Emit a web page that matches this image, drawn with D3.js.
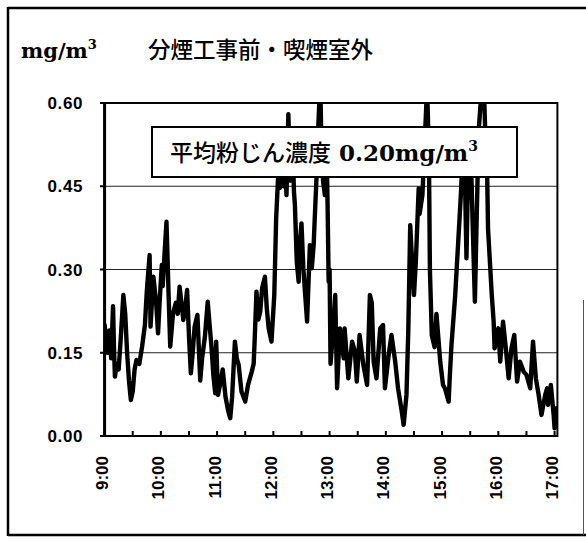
<!DOCTYPE html>
<html><head><meta charset="utf-8">
<script src="https://cdn.jsdelivr.net/npm/d3@7"></script>
<style>body{margin:0;background:#fff;}svg{display:block;}</style>
</head><body>
<svg id="c" width="586" height="540"></svg>
<script>
// ---- data (minutes after 9:00, dust concentration mg/m3) ----
const minutes = [0,3,5,7,9,10,11,13,15,17,20,22,24,26,28,30,32,34,37,40,43,45,48,49,52,55,57,59,61,62,64,66,67,68,70,73,76,78,80,84,86,88,90,92,94,96,99,102,104,107,110,112,114,116,118,119,121,124,126,129,132,134,136,137,139,141,143,146,150,153,157,159,160,162,164,166,168,171,173,175,178,181,183,185,187,189,191,192,194,196,198,200,202,203,205,207,208,210,212,214,216,217,219,221,223,224,226,228,230,231,233,235,237,238,239,240,241,244,246,248,251,255,256,260,264,267,269,272,276,280,283,285,287,290,294,297,299,303,306,310,313,317,319,322,324,326,328,330,332,335,336,339,342,344,346,347,349,352,354,358,361,363,367,368,370,374,377,380,383,384,386,388,390,392,394,395,397,399,402,404,406,408,409,413,415,416,420,422,425,428,431,434,437,440,443,447,450,454,457,460,463,466,470,472,473,476,479,480,482];
const dust = [0.20,0.15,0.19,0.14,0.234,0.16,0.107,0.13,0.12,0.17,0.254,0.22,0.15,0.10,0.065,0.08,0.12,0.137,0.13,0.161,0.20,0.26,0.326,0.197,0.287,0.24,0.185,0.25,0.308,0.27,0.33,0.386,0.33,0.269,0.161,0.221,0.24,0.22,0.269,0.209,0.23,0.263,0.18,0.113,0.15,0.197,0.218,0.10,0.14,0.179,0.242,0.20,0.161,0.11,0.077,0.17,0.074,0.10,0.12,0.07,0.044,0.032,0.07,0.104,0.17,0.14,0.128,0.08,0.062,0.092,0.116,0.13,0.17,0.26,0.21,0.224,0.266,0.287,0.23,0.194,0.17,0.254,0.392,0.464,0.447,0.50,0.45,0.52,0.434,0.58,0.46,0.55,0.44,0.416,0.314,0.278,0.344,0.383,0.302,0.254,0.206,0.254,0.344,0.302,0.344,0.386,0.464,0.56,0.64,0.55,0.46,0.434,0.50,0.40,0.278,0.30,0.13,0.194,0.254,0.086,0.194,0.14,0.194,0.104,0.17,0.152,0.098,0.182,0.128,0.092,0.254,0.24,0.134,0.104,0.194,0.20,0.086,0.146,0.182,0.134,0.086,0.044,0.02,0.074,0.194,0.38,0.314,0.254,0.314,0.446,0.40,0.434,0.55,0.63,0.50,0.30,0.182,0.16,0.22,0.134,0.092,0.086,0.062,0.10,0.164,0.254,0.344,0.434,0.55,0.50,0.32,0.50,0.55,0.42,0.30,0.242,0.40,0.55,0.62,0.66,0.55,0.48,0.374,0.254,0.206,0.158,0.194,0.134,0.206,0.158,0.104,0.158,0.182,0.098,0.134,0.116,0.11,0.086,0.17,0.104,0.074,0.038,0.074,0.086,0.056,0.092,0.038,0.014,0.05];
const xTickMinutes = [0,60,120,180,240,300,360,420,480];
const xTickLabels = ["9:00","10:00","11:00","12:00","13:00","14:00","15:00","16:00","17:00"];
const xMinorMinutes = [30,90,150,210,270,330,390,450];
const yTicks = [0,0.15,0.30,0.45,0.60];
const yTickLabels = ["0.00","0.15","0.30","0.45","0.60"];
const unitText = "mg/m";
const unitSup = "3";
const titleText = "分煙工事前・喫煙室外";
const legendJa = "平均粉じん濃度";
const legendVal = " 0.20mg/m";
const legendSup = "3";

// ---- drawing ----
const svg = d3.select("#c");
const x = d3.scaleLinear().domain([0, 483]).range([104.6, 557.4]);
const y = d3.scaleLinear().domain([0, 0.6]).range([436, 103]);

// outer frame (partial right side as in scan)
svg.append("line").attr("x1",8).attr("y1",8).attr("x2",586).attr("y2",8).attr("stroke","#000").attr("stroke-width",2.5);
svg.append("line").attr("x1",8).attr("y1",7).attr("x2",8).attr("y2",536).attr("stroke","#000").attr("stroke-width",2.5);
svg.append("line").attr("x1",8).attr("y1",535).attr("x2",586).attr("y2",535).attr("stroke","#000").attr("stroke-width",2.5);
svg.append("line").attr("x1",583.5).attr("y1",300).attr("x2",583.5).attr("y2",535).attr("stroke","#555").attr("stroke-width",1);

// title
const t1 = svg.append("text").attr("x",21).attr("y",58)
  .attr("font-family","DejaVu Serif, Liberation Serif, serif").attr("font-weight","bold")
  .attr("font-size",21).attr("fill","#000").text(unitText);
t1.append("tspan").attr("dy",-9).attr("font-size",13).text(unitSup);
svg.append("text").attr("x",148).attr("y",58)
  .attr("font-family","Noto Sans CJK JP, sans-serif").attr("font-weight",500)
  .attr("font-size",22.5).attr("fill","#000").text(titleText);

// gridlines
svg.append("g").selectAll("line").data(yTicks.filter(d => d > 0 && d < 0.6)).join("line")
  .attr("x1", x.range()[0]).attr("x2", x.range()[1])
  .attr("y1", d => y(d)).attr("y2", d => y(d))
  .attr("stroke","#222").attr("stroke-width",1);

// y axis labels and ticks
svg.append("g").selectAll("text").data(yTicks).join("text")
  .attr("x",83).attr("y", d => y(d)).attr("dy","0.36em")
  .attr("text-anchor","end")
  .attr("font-family","Liberation Sans, Arial, sans-serif").attr("font-weight","bold")
  .attr("font-size",17).attr("letter-spacing",0.6).attr("fill","#000")
  .text((d,i) => yTickLabels[i]);
svg.append("g").selectAll("line").data(yTicks).join("line")
  .attr("x1",100).attr("x2",104.6).attr("y1", d => y(d)).attr("y2", d => y(d))
  .attr("stroke","#000").attr("stroke-width",2);

// data line
svg.append("clipPath").attr("id","clip").append("rect")
  .attr("x", x.range()[0]).attr("y", 103).attr("width", x.range()[1]-x.range()[0]).attr("height", 333);
const line = d3.line().x((d,i) => x(minutes[i])).y(d => y(d));
svg.append("path").datum(dust).attr("clip-path","url(#clip)")
  .attr("d", line).attr("fill","none").attr("stroke","#000")
  .attr("stroke-width",4.4).attr("stroke-linejoin","round").attr("stroke-linecap","round");

// plot frame
svg.append("rect").attr("x", x.range()[0]).attr("y", 103)
  .attr("width", x.range()[1]-x.range()[0]).attr("height", 333)
  .attr("fill","none").attr("stroke","#000").attr("stroke-width",2);
svg.append("line").attr("x1",x.range()[0]).attr("x2",x.range()[0]).attr("y1",102).attr("y2",437)
  .attr("stroke","#000").attr("stroke-width",3);

// x ticks (inside, pointing up)
svg.append("g").selectAll("line").data(xTickMinutes.concat(xMinorMinutes)).join("line")
  .attr("x1", d => x(d)).attr("x2", d => x(d)).attr("y1",436).attr("y2",431)
  .attr("stroke","#000").attr("stroke-width",2);

// x labels rotated
svg.append("g").selectAll("text").data(xTickMinutes).join("text")
  .attr("transform", d => `translate(${x(d)-2.5},456) rotate(-90)`)
  .attr("dy","0.36em").attr("text-anchor","end")
  .attr("font-family","Liberation Sans, Arial, sans-serif").attr("font-weight","bold")
  .attr("font-size",17).attr("fill","#000")
  .text((d,i) => xTickLabels[i]);

// legend box
svg.append("rect").attr("x",152).attr("y",127).attr("width",365).attr("height",50)
  .attr("fill","#fff").attr("stroke","#000").attr("stroke-width",2);
const lg = svg.append("text").attr("x",170).attr("y",161).attr("fill","#000");
lg.append("tspan").attr("font-family","Noto Sans CJK JP, sans-serif").attr("font-weight",500)
  .attr("font-size",23).text(legendJa);
lg.append("tspan").attr("font-family","DejaVu Serif, Liberation Serif, serif").attr("font-weight","bold")
  .attr("font-size",23).text(legendVal);
lg.append("tspan").attr("font-family","DejaVu Serif, Liberation Serif, serif").attr("font-weight","bold")
  .attr("font-size",14).attr("dy",-10).text(legendSup);
</script>
</body></html>
